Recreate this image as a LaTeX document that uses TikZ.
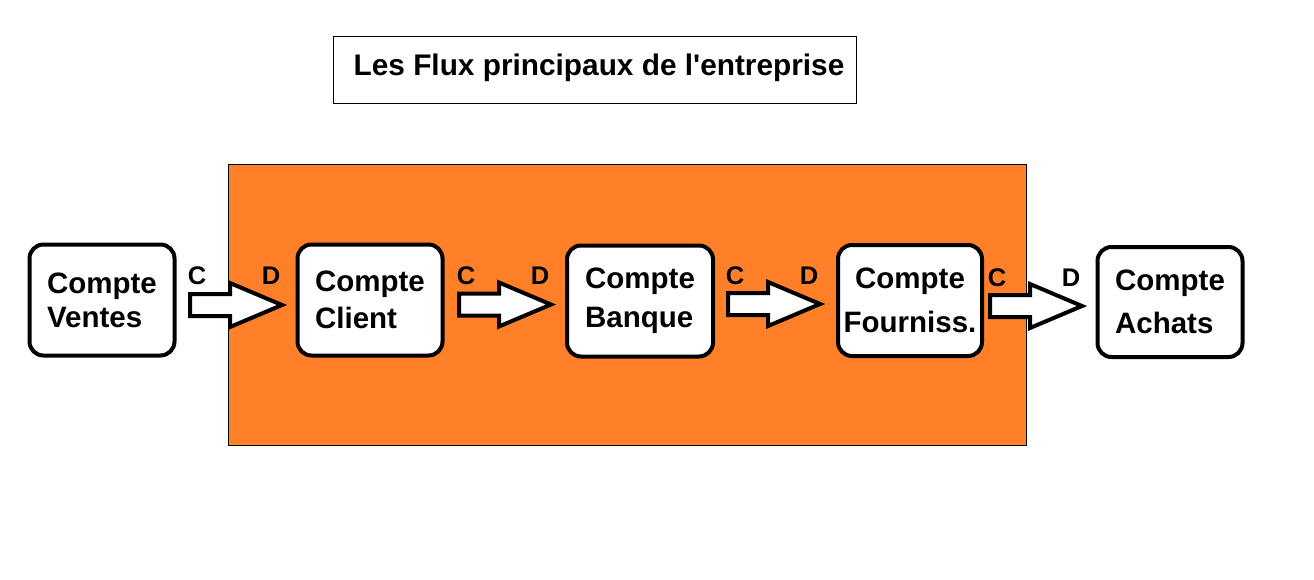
\documentclass[tikz,border=0pt]{standalone}
\usepackage{fontspec}
\setmainfont{Liberation Sans}[Ligatures=TeXOff]
\definecolor{flowor}{RGB}{255,128,40}
\tikzset{
  compte/.style={draw=black, line width=4pt, fill=white, rounded corners=14pt,
    inner sep=0pt, font=\bfseries\fontsize{29.5}{#1}\selectfont, text=black},
  cdlab/.style={font=\bfseries\fontsize{25.5}{25}\selectfont, text=black, inner sep=0pt},
  blockarr/.pic={\draw[line width=4pt, fill=white, miter limit=10]
      (0,-11) -- (40,-11) -- (40,-22) -- (92,0) -- (40,22) -- (40,11) -- (0,11) -- cycle;}
}
\begin{document}
\begin{tikzpicture}[x=1pt,y=-1pt]
\useasboundingbox (0,0) rectangle (1314,579);
% title
\node[draw=black, line width=1pt, minimum width=523pt, minimum height=67pt, inner sep=0pt]
  (titlebox) at (594.5,70) {};
\node[anchor=base, font=\bfseries\fontsize{29.8}{30}\selectfont, inner sep=0pt]
  (title) at (599,75) {Les Flux principaux de l'entreprise};
% orange area
\node[draw=black, line width=1pt, fill=flowor, minimum width=798pt, minimum height=281pt, inner sep=0pt]
  (zone) at (627,304.5) {};
% boxes
\node[compte=34, minimum width=145pt, minimum height=111pt, align=left] (ventes) at (102,300) {Compte\\Ventes};
\node[compte=37, minimum width=145pt, minimum height=111pt, align=left] (client) at (370,300) {Compte\\Client};
\node[compte=39, minimum width=146pt, minimum height=111pt, align=left] (banque) at (640,301) {Compte\\Banque};
\node[compte=44, minimum width=144pt, minimum height=111pt, align=center] (fourn) at (910,300.5) {Compte\\Fourniss.};
\node[compte=43, minimum width=145pt, minimum height=110pt, align=left] (achats) at (1170,302) {Compte\\Achats};
% block arrows
\pic (a1) at (190,305) {blockarr};
\pic (a2) at (459,304.5) {blockarr};
\pic (a3) at (728,304) {blockarr};
\pic (a4) at (990,306) {blockarr};
% C / D labels
\node[cdlab] (c1) at (197,276) {C};
\node[cdlab] (d1) at (271,276) {D};
\node[cdlab] (c2) at (466,276) {C};
\node[cdlab] (d2) at (540,276) {D};
\node[cdlab] (c3) at (735,276) {C};
\node[cdlab] (d3) at (809,276) {D};
\node[cdlab] (c4) at (997,278) {C};
\node[cdlab] (d4) at (1071,278) {D};
\end{tikzpicture}
\end{document}
